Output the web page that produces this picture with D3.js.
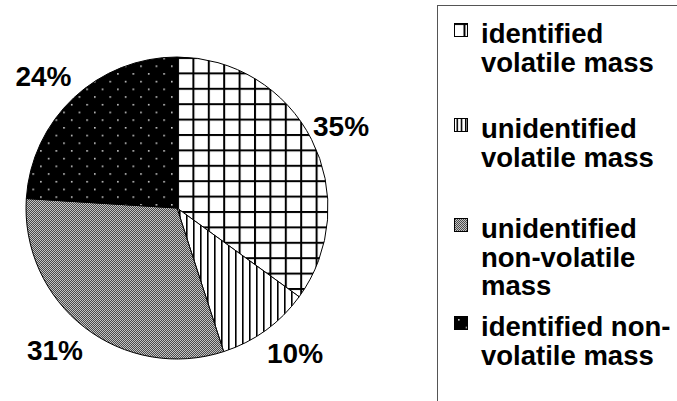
<!DOCTYPE html>
<html>
<head>
<meta charset="utf-8">
<script src="https://cdn.jsdelivr.net/npm/d3@7"></script>
<style>
  body { margin: 0; background: #fff; }
  text { font-family: "Liberation Sans", Arial, sans-serif; font-weight: bold; }
</style>
</head>
<body>
<script>
// slices, clockwise from 12 o'clock
const categories = ["identified volatile mass", "unidentified volatile mass",
                    "unidentified non-volatile mass", "identified non-volatile mass"];
const values = [35, 10, 31, 24];
// legend text, broken the way the original wraps it
const legendLines = [
  ["identified", "volatile mass"],
  ["unidentified", "volatile mass"],
  ["unidentified", "non-volatile", "mass"],
  ["identified non-", "volatile mass"]
];
const patternIds = ["grid", "vlines", "checker", "dots"];

const w = 677, h = 401;
const cx = 177, cy = 208, r = 151;

const svg = d3.select("body").append("svg")
    .attr("width", w)
    .attr("height", h);

const defs = svg.append("defs");

// one function per fill so the legend swatches can get their own offset
function makePatterns(suffix, ox, oy) {
  let p = defs.append("pattern").attr("id", "grid" + suffix)
      .attr("patternUnits", "userSpaceOnUse")
      .attr("width", 15.4).attr("height", 15.4)
      .attr("x", ox.grid).attr("y", oy.grid);
  p.append("rect").attr("width", 15.4).attr("height", 15.4).attr("fill", "#fff");
  p.append("rect").attr("width", 2).attr("height", 15.4).attr("fill", "#000");
  p.append("rect").attr("width", 15.4).attr("height", 2).attr("fill", "#000");

  p = defs.append("pattern").attr("id", "vlines" + suffix)
      .attr("patternUnits", "userSpaceOnUse")
      .attr("width", ox.vstep).attr("height", 7)
      .attr("x", ox.vlines).attr("y", 0);
  p.append("rect").attr("width", ox.vstep).attr("height", 7).attr("fill", "#fff");
  p.append("rect").attr("width", 1.6).attr("height", 7).attr("fill", "#000");

  // fine checker, kept low-contrast so it reads as a mid grey
  p = defs.append("pattern").attr("id", "checker" + suffix)
      .attr("patternUnits", "userSpaceOnUse")
      .attr("width", 2).attr("height", 2);
  p.append("rect").attr("width", 2).attr("height", 2).attr("fill", "#c4c4c4");
  p.append("rect").attr("width", 1).attr("height", 1).attr("fill", "#4a4a4a");
  p.append("rect").attr("x", 1).attr("y", 1).attr("width", 1).attr("height", 1).attr("fill", "#4a4a4a");

  p = defs.append("pattern").attr("id", "dots" + suffix)
      .attr("patternUnits", "userSpaceOnUse")
      .attr("width", 15.4).attr("height", 15.4)
      .attr("x", ox.dots).attr("y", oy.dots);
  p.append("rect").attr("width", 15.4).attr("height", 15.4).attr("fill", "#000");
  p.append("rect").attr("width", 1.6).attr("height", 1.6).attr("fill", "#ccc");
  p.append("rect").attr("x", 7.7).attr("y", 7.7).attr("width", 1.6).attr("height", 1.6).attr("fill", "#ccc");
}

// pie fills (in the translated group's space)
makePatterns("", {grid: 0, vlines: 2, vstep: 7, dots: -6}, {grid: 3, dots: -4});
// legend fills (swatch at x=454, y=-20, 14x14 in each row's space)
makePatterns("-leg", {grid: 463.5, vlines: 456.5, vstep: 4.2, dots: 458}, {grid: -20, dots: -17});

const pie = d3.pie().sort(null).value(d => d);
const arcs = pie(values);
const arc = d3.arc().innerRadius(0).outerRadius(r);
const labelArc = d3.arc().innerRadius(180).outerRadius(180);

const g = svg.append("g").attr("transform", `translate(${cx},${cy})`);

g.selectAll("path.slice")
  .data(arcs)
  .enter()
  .append("path")
    .attr("class", "slice")
    .attr("d", arc)
    .attr("fill", (d, i) => `url(#${patternIds[i]})`)
    .attr("stroke", "#000")
    .attr("stroke-width", 1);

// labels sit just outside the rim, pushed sideways more near the bottom/top
g.selectAll("text.pct")
  .data(arcs)
  .enter()
  .append("text")
    .attr("class", "pct")
    .attr("x", d => {
      const c = labelArc.centroid(d);
      const push = 24 * (Math.abs(c[1]) / 180 - 0.3);
      return c[0] + (c[0] > 0 ? push : -push);
    })
    .attr("y", d => labelArc.centroid(d)[1])
    .attr("text-anchor", "middle")
    .attr("dominant-baseline", "central")
    .attr("font-size", 28)
    .text(d => d.data + "%");

// legend
svg.append("rect")
    .attr("x", 437.5).attr("y", 5.5)
    .attr("width", 300).attr("height", 420)
    .attr("fill", "none")
    .attr("stroke", "#555")
    .attr("stroke-width", 1);

const rowY = [43, 138, 238, 336];
const lineH = 28.5;

const item = svg.selectAll("g.leg")
  .data(categories)
  .enter()
  .append("g")
    .attr("class", "leg")
    .attr("transform", (d, i) => `translate(0,${rowY[i]})`);

item.append("rect")
    .attr("x", 454.5).attr("y", -19.5)
    .attr("width", 13).attr("height", 13)
    .attr("fill", (d, i) => `url(#${patternIds[i]}-leg)`)
    .attr("stroke", "#000")
    .attr("stroke-width", 1);

item.append("text")
    .attr("x", 481)
    .attr("font-size", 27.5)
    .selectAll("tspan")
    .data((d, i) => legendLines[i])
    .enter()
    .append("tspan")
      .attr("x", 481)
      .attr("y", (d, j) => j * lineH)
      .text(d => d);
</script>
</body>
</html>
